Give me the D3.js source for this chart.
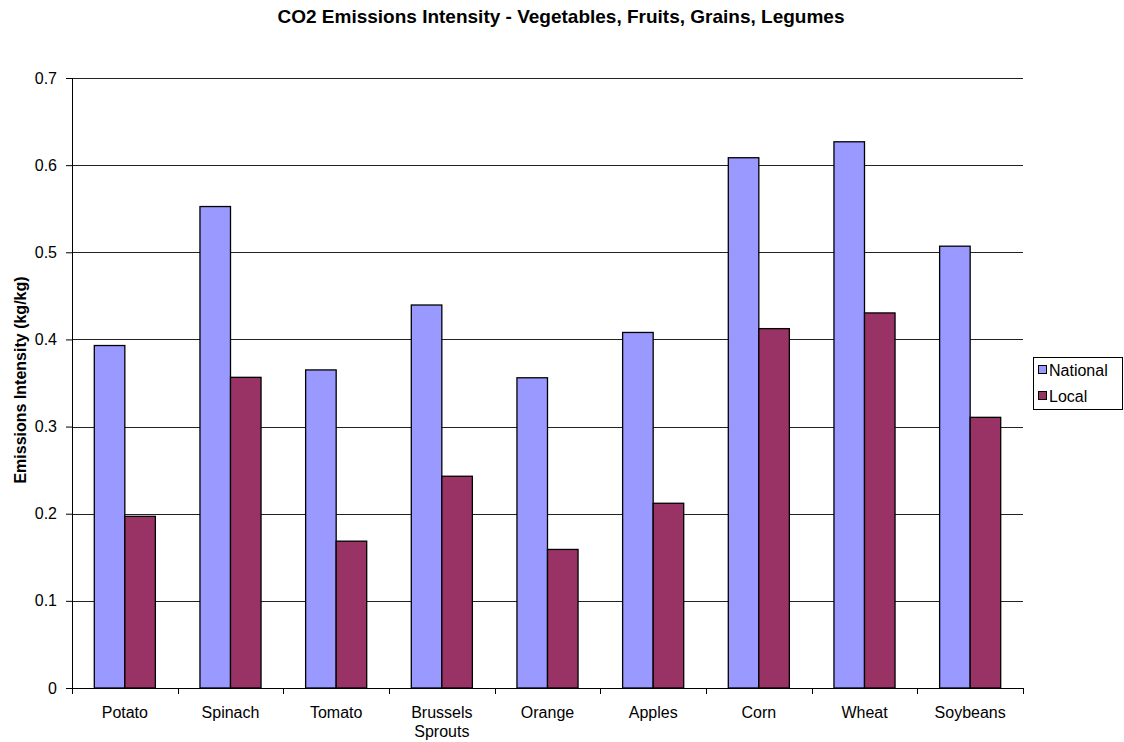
<!DOCTYPE html>
<meta charset="utf-8">
<script src="https://d3js.org/d3.v7.min.js"></script>
<style>
  body { margin: 0; background: #fff; }
  text { font-family: "Liberation Sans", Arial, sans-serif; }
</style>
<div id="chart"></div>
<script>

// data
var categories = ["Potato", "Spinach", "Tomato", "Brussels Sprouts", "Orange", "Apples", "Corn", "Wheat", "Soybeans"]
var national = [0.393, 0.5525, 0.365, 0.4395, 0.356, 0.408, 0.6085, 0.6268, 0.507]
var local = [0.197, 0.3565, 0.1685, 0.243, 0.159, 0.212, 0.4124, 0.4304, 0.3106]
var seriesNames = ["National", "Local"]
var yTicks = [0, 0.1, 0.2, 0.3, 0.4, 0.5, 0.6, 0.7]

var width = 1124,
    height = 742,
    margin = {top: 78, right: 101, bottom: 54, left: 72}

var colors = ["#9999FF", "#993366"]

var svg = d3.select("#chart")
  .append("svg")
    .attr("width", width)
    .attr("height", height)

var plotW = width - margin.left - margin.right,
    plotH = height - margin.top - margin.bottom

var g = svg.append("g")
    .attr("transform", "translate(" + margin.left + "," + margin.top + ")")

var x = d3.scaleBand()
  .domain(categories)
  .range([0, plotW])

var x1 = d3.scaleBand()
  .domain(seriesNames)
  .range([x.bandwidth() * 0.211, x.bandwidth() * 0.789])

var y = d3.scaleLinear()
  .domain([0, 0.7])
  .range([plotH, 0])

// gridlines
g.selectAll(".grid")
  .data(yTicks.slice(1))
  .enter().append("line")
    .attr("x1", 0)
    .attr("x2", plotW)
    .attr("y1", function(d) { return Math.round(y(d)) + 0.5 })
    .attr("y2", function(d) { return Math.round(y(d)) + 0.5 })
    .attr("stroke", "#222")
    .attr("stroke-width", 1)

// bars
var rows = categories.map(function(c, i) {
  return [{key: "National", cat: c, value: national[i]}, {key: "Local", cat: c, value: local[i]}]
})

g.selectAll(".cat")
  .data(rows)
  .enter().append("g")
    .attr("transform", function(d) { return "translate(" + x(d[0].cat) + ",0)" })
  .selectAll("rect")
  .data(function(d) { return d })
  .enter().append("rect")
    .attr("x", function(d) { return x1(d.key) })
    .attr("width", x1.bandwidth())
    .attr("y", function(d) { return y(d.value) })
    .attr("height", function(d) { return plotH - y(d.value) })
    .attr("fill", function(d, i) { return colors[i] })
    .attr("stroke", "#000")
    .attr("stroke-width", 1.3)

// y axis
var yAxis = g.append("g")
  .call(d3.axisLeft(y).tickValues(yTicks).tickSize(6).tickPadding(9)
    .tickFormat(function(d) { return d === 0 ? "0" : d3.format(".1f")(d) }))
yAxis.select(".domain").attr("d", "M0.5,0V" + plotH)
yAxis.selectAll("text").style("font-size", "16px").attr("fill", "#000")

// x axis
var xAxis = g.append("g")
  .attr("transform", "translate(0," + plotH + ")")
  .call(d3.axisBottom(x).tickSize(0).tickPadding(0))
xAxis.select(".domain").attr("d", "M0," + 0.5 + "H" + plotW)
xAxis.selectAll(".tick text").remove()

// x axis ticks between categories
g.selectAll(".xtick")
  .data(d3.range(categories.length + 1))
  .enter().append("line")
    .attr("x1", function(i) { return Math.round(i * x.step()) + 0.5 })
    .attr("x2", function(i) { return Math.round(i * x.step()) + 0.5 })
    .attr("y1", plotH)
    .attr("y2", plotH + 6)
    .attr("stroke", "#000")

// x labels (wrap Brussels Sprouts)
g.selectAll(".xlab")
  .data(categories)
  .enter().append("text")
    .attr("text-anchor", "middle")
    .attr("font-size", "16px")
    .attr("transform", function(d) { return "translate(" + (x(d) + x.bandwidth() / 2) + "," + (plotH + 30) + ")" })
    .each(function(d) {
      var words = d.split(" ")
      var t = d3.select(this)
      words.forEach(function(w, i) {
        t.append("tspan").attr("x", 0).attr("dy", i === 0 ? 0 : 19).text(w)
      })
    })

// title
svg.append("text")
  .attr("x", 561)
  .attr("y", 23)
  .attr("text-anchor", "middle")
  .attr("font-size", "19px")
  .attr("font-weight", "bold")
  .text("CO2 Emissions Intensity - Vegetables, Fruits, Grains, Legumes")

// y label
svg.append("text")
  .attr("transform", "translate(26,380) rotate(-90)")
  .attr("text-anchor", "middle")
  .attr("font-size", "16px")
  .attr("font-weight", "bold")
  .text("Emissions Intensity (kg/kg)")

// legend
var legend = svg.append("g").attr("transform", "translate(1033,357)")
legend.append("rect")
  .attr("x", 0.5).attr("y", 0.5)
  .attr("width", 89).attr("height", 52)
  .attr("fill", "#fff").attr("stroke", "#000")

seriesNames.forEach(function(s, i) {
  legend.append("rect")
    .attr("x", 5.5).attr("y", 8.5 + i * 26)
    .attr("width", 8).attr("height", 8)
    .attr("fill", colors[i]).attr("stroke", "#000")
  legend.append("text")
    .attr("x", 16).attr("y", 19 + i * 26)
    .attr("font-size", "16px")
    .text(s)
})

</script>
